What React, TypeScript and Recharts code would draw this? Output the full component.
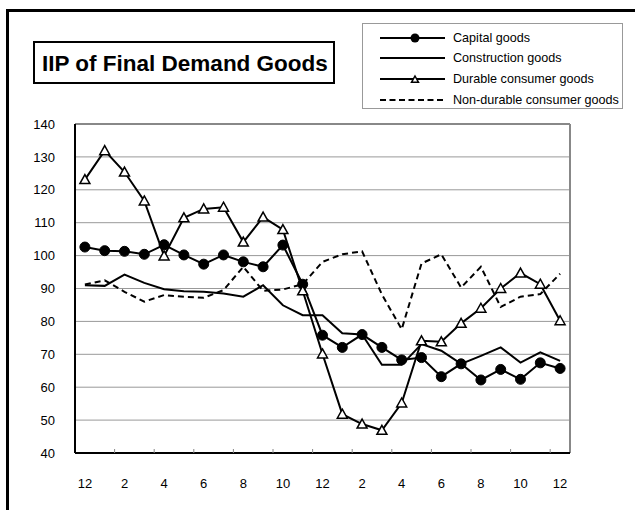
import { CartesianGrid, Line, LineChart, ReferenceLine, XAxis, YAxis } from 'recharts';

const months = ['12', '1', '2', '3', '4', '5', '6', '7', '8', '9', '10', '11', '12', '1', '2', '3', '4', '5', '6', '7', '8', '9', '10', '11', '12'];

const capital = [102.6, 101.5, 101.3, 100.4, 103.3, 100.2, 97.4, 100.2, 98.1, 96.6, 103.2, 91.3, 75.8, 72.1, 76.0, 72.1, 68.3, 69.0, 63.2, 67.1, 62.2, 65.4, 62.4, 67.4, 65.7];
const construction = [91.0, 90.8, 94.2, 91.7, 89.8, 89.2, 89.0, 88.5, 87.5, 91.0, 84.9, 81.9, 81.9, 76.4, 76.0, 66.8, 66.8, 73.1, 71.1, 67.1, 69.5, 72.1, 67.5, 70.6, 68.0];
const durable = [123.1, 131.9, 125.4, 116.6, 99.9, 111.5, 114.2, 114.7, 104.1, 111.7, 107.9, 89.3, 70.1, 51.8, 48.8, 46.9, 55.2, 74.1, 73.8, 79.4, 84.0, 90.0, 94.7, 91.3, 80.2];
const nonDurable = [91.2, 92.5, 89.0, 86.0, 88.0, 87.5, 87.2, 89.5, 96.6, 89.3, 89.7, 91.3, 98.1, 100.4, 101.3, 88.2, 77.6, 97.6, 100.4, 90.3, 96.6, 84.4, 87.5, 88.3, 94.5];

// x positions: labels on every other month, tick marks on the band edges between
const labelIdx = [0, 2, 4, 6, 8, 10, 12, 14, 16, 18, 20, 22, 24];
const markPos = [1.5, 3.5, 5.5, 7.5, 9.5, 11.5, 13.5, 15.5, 17.5, 19.5, 21.5, 23.5];
const yTicks = [40, 50, 60, 70, 80, 90, 100, 110, 120, 130, 140];

const title = 'IIP of Final Demand Goods';
const seriesNames = ['Capital goods', 'Construction goods', 'Durable consumer goods', 'Non-durable consumer goods'];

const font = '"Liberation Sans", Arial, sans-serif';

const rows = months.map((m, i) => ({
  idx: i,
  month: m,
  capital: capital[i],
  construction: construction[i],
  durable: durable[i],
  nonDurable: nonDurable[i],
}));

function MonthTick(props: any) {
  const { x, y, payload } = props;
  const v = payload.value as number;
  if (Number.isInteger(v)) {
    return (
      <text x={x} y={y + 24} textAnchor="middle" dominantBaseline="central" fontSize={13} fill="#000" fontFamily={font}>
        {months[v]}
      </text>
    );
  }
  return <line x1={x} x2={x} y1={y - 6} y2={y - 10} stroke="#888" strokeWidth={1} />;
}

function triangle(cx: number, cy: number, s = 1) {
  return `M${cx},${cy - 5 * s} L${cx + 5 * s},${cy + 4 * s} L${cx - 5 * s},${cy + 4 * s} Z`;
}

const renderTriangle = (p: any) => {
  if (p.cx == null || p.cy == null) return <g key={p.index} />;
  return <path key={p.index} d={triangle(p.cx, p.cy)} fill="#fff" stroke="#000" strokeWidth={1.5} />;
};

function Legend() {
  const rowY = [15, 35, 56, 77];
  return (
    <svg width={261} height={86} style={{ position: 'absolute', left: 362, top: 23 }}>
      <rect x={0.5} y={0.5} width={260} height={85} fill="#fff" stroke="#999" />
      {seriesNames.map((name, i) => {
        const y = rowY[i];
        return (
          <g key={name}>
            <line
              x1={18}
              x2={83}
              y1={y}
              y2={y}
              stroke="#000"
              strokeWidth={2}
              strokeDasharray={i === 3 ? '6 3.5' : undefined}
            />
            {i === 0 && <circle cx={53} cy={y} r={4.5} fill="#000" />}
            {i === 2 && <path d={triangle(53, y + 0.5, 0.7)} fill="#fff" stroke="#000" strokeWidth={1.5} />}
            <text x={91} y={y} dominantBaseline="central" fontSize={12.6} fill="#000" fontFamily={font}>
              {name}
            </text>
          </g>
        );
      })}
    </svg>
  );
}

export default function App() {
  return (
    <div style={{ position: 'absolute', left: 0, top: 0, width: 635, height: 510, overflow: 'hidden', background: '#fff', fontFamily: font }}>
      <div style={{ position: 'absolute', left: 6, top: 9, width: 700, height: 600, border: '3px solid #000' }} />

      <svg width={302} height={43} style={{ position: 'absolute', left: 33, top: 41 }}>
        <rect x={1} y={1} width={300} height={41} fill="#fff" stroke="#000" strokeWidth={2} />
        <text x={9} y={29.5} fontSize={22.5} fontWeight="bold" fill="#000" fontFamily={font}>
          {title}
        </text>
      </svg>

      <Legend />

      <div style={{ position: 'absolute', left: 0, top: 0 }}>
        <LineChart width={635} height={510} data={rows} margin={{ top: 124, right: 65, bottom: 17, left: 0 }}>
          <CartesianGrid vertical={false} stroke="#999" strokeWidth={1} />
          <XAxis
            dataKey="idx"
            type="number"
            domain={[-0.5, 24.5]}
            ticks={[...labelIdx, ...markPos]}
            interval={0}
            tick={<MonthTick />}
            tickLine={false}
            tickSize={6}
            tickMargin={0}
            height={40}
            axisLine={{ stroke: '#000', strokeWidth: 2 }}
          />
          <YAxis
            type="number"
            domain={[40, 140]}
            ticks={yTicks}
            interval={0}
            width={75}
            tickLine={false}
            tickSize={10}
            tickMargin={10}
            tick={{ fontSize: 13, fill: '#000', fontFamily: font }}
            axisLine={{ stroke: '#000', strokeWidth: 2 }}
          />
          <ReferenceLine y={140} stroke="#888" strokeWidth={2} />
          <ReferenceLine x={24.5} stroke="#888" strokeWidth={2} />
          <Line
            type="linear"
            dataKey="capital"
            stroke="#000"
            strokeWidth={2}
            dot={{ r: 5, fill: '#000', stroke: '#000', strokeWidth: 1 }}
            activeDot={false}
            isAnimationActive={false}
          />
          <Line type="linear" dataKey="construction" stroke="#000" strokeWidth={2} dot={false} activeDot={false} isAnimationActive={false} />
          <Line
            type="linear"
            dataKey="durable"
            stroke="#000"
            strokeWidth={2}
            dot={renderTriangle}
            activeDot={false}
            isAnimationActive={false}
          />
          <Line
            type="linear"
            dataKey="nonDurable"
            stroke="#000"
            strokeWidth={2}
            strokeDasharray="6 4"
            dot={false}
            activeDot={false}
            isAnimationActive={false}
          />
        </LineChart>
      </div>
    </div>
  );
}
